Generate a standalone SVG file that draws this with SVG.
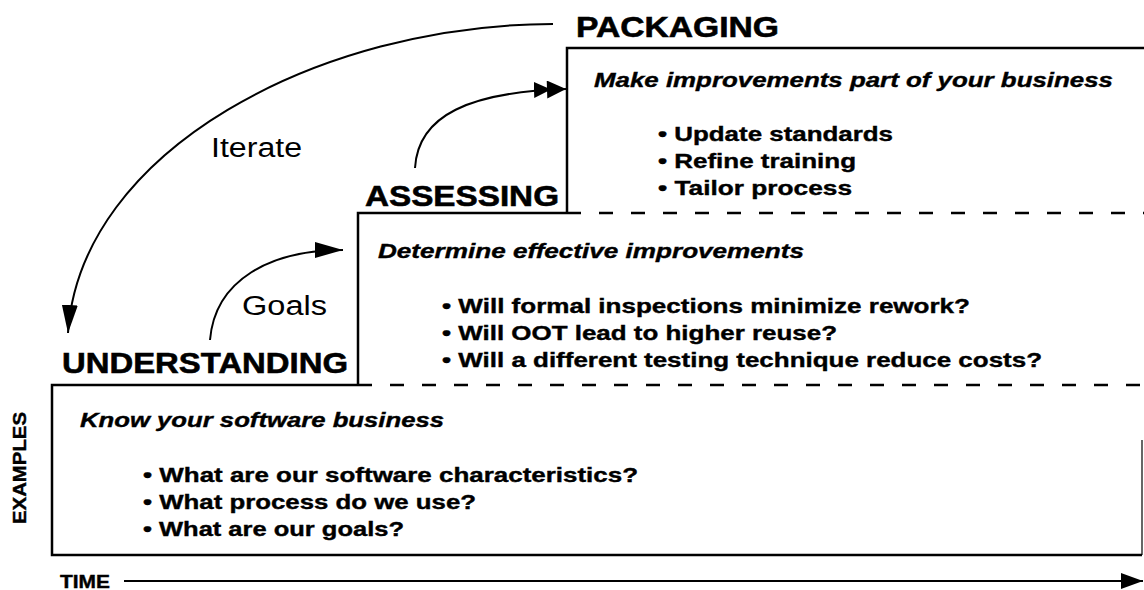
<svg xmlns="http://www.w3.org/2000/svg" width="1144" height="590" viewBox="0 0 1144 590">
  <style>
    .bg { fill: #ffffff; }
    .box { fill: none; stroke: #000; stroke-width: 2.5; }
    .dash { fill: none; stroke: #000; stroke-width: 2.5; stroke-dasharray: 14 18; }
    .conn { fill: none; stroke: #000; stroke-width: 2; }
    .head { font-family: "Liberation Sans", Arial, sans-serif; font-weight: bold; font-size: 30px; fill: #000; stroke: #000; stroke-width: 0.6; }
    .title { font-family: "Liberation Sans", Arial, sans-serif; font-weight: bold; font-style: italic; font-size: 21px; fill: #000; stroke: #000; stroke-width: 0.4; }
    .item { font-family: "Liberation Sans", Arial, sans-serif; font-weight: bold; font-size: 21px; fill: #000; stroke: #000; stroke-width: 0.4; }
    .lbl { font-family: "Liberation Sans", Arial, sans-serif; font-size: 27px; fill: #000; }
    .axis { font-family: "Liberation Sans", Arial, sans-serif; font-weight: bold; font-size: 18px; fill: #000; stroke: #000; stroke-width: 0.4; }
  </style>
  <defs>
    <marker id="arrow" viewBox="0 0 28 16" refX="28" refY="8" markerWidth="28" markerHeight="16" markerUnits="userSpaceOnUse" orient="auto">
      <path d="M0,0 L28,8 L0,16 Z" fill="#000"/>
    </marker>
    <marker id="arrowDouble" viewBox="0 0 32 18" refX="32" refY="9" markerWidth="32" markerHeight="18" markerUnits="userSpaceOnUse" orient="auto">
      <path d="M0,1 L17,9 L0,17 Z M13,0 L32,9 L13,18 Z" fill="#000"/>
    </marker>
    <marker id="arrowTime" viewBox="0 0 22 16" refX="22" refY="8" markerWidth="22" markerHeight="16" markerUnits="userSpaceOnUse" orient="auto">
      <path d="M0,0 L22,8 L0,16 Z" fill="#000"/>
    </marker>
  </defs>
  <rect class="bg" x="0" y="0" width="1144" height="590"/>

  <g id="packaging">
    <text class="head" x="576" y="37" textLength="203" lengthAdjust="spacingAndGlyphs">PACKAGING</text>
    <path class="box" d="M567,213 L567,48 L1144,48"/>
    <path class="dash" d="M567,213 L1144,213"/>
    <text class="title" x="594" y="87" textLength="519" lengthAdjust="spacingAndGlyphs">Make improvements part of your business</text>
    <text class="item" x="658" y="141" textLength="235" lengthAdjust="spacingAndGlyphs">• Update standards</text>
    <text class="item" x="658" y="168" textLength="198" lengthAdjust="spacingAndGlyphs">• Refine training</text>
    <text class="item" x="658" y="195" textLength="194" lengthAdjust="spacingAndGlyphs">• Tailor process</text>
  </g>

  <g id="assessing">
    <text class="head" x="365" y="206" textLength="194" lengthAdjust="spacingAndGlyphs">ASSESSING</text>
    <path class="box" d="M358,385 L358,213 L567,213"/>
    <path class="dash" d="M358,385 L1144,385"/>
    <text class="title" x="378" y="258" textLength="426" lengthAdjust="spacingAndGlyphs">Determine effective improvements</text>
    <text class="item" x="442" y="313" textLength="528" lengthAdjust="spacingAndGlyphs">• Will formal inspections minimize rework?</text>
    <text class="item" x="442" y="340" textLength="395" lengthAdjust="spacingAndGlyphs">• Will OOT lead to higher reuse?</text>
    <text class="item" x="442" y="367" textLength="600" lengthAdjust="spacingAndGlyphs">• Will a different testing technique reduce costs?</text>
  </g>

  <g id="understanding">
    <text class="head" x="62" y="373" textLength="286" lengthAdjust="spacingAndGlyphs">UNDERSTANDING</text>
    <path class="box" d="M358,385 L52,385 L52,555 L1142,555"/>
    <path d="M1142,555 L1142,440" fill="none" stroke="#000" stroke-width="1.2"/>
    <text class="title" x="80" y="427" textLength="364" lengthAdjust="spacingAndGlyphs">Know your software business</text>
    <text class="item" x="143" y="482" textLength="495" lengthAdjust="spacingAndGlyphs">• What are our software characteristics?</text>
    <text class="item" x="143" y="509" textLength="333" lengthAdjust="spacingAndGlyphs">• What process do we use?</text>
    <text class="item" x="143" y="536" textLength="261" lengthAdjust="spacingAndGlyphs">• What are our goals?</text>
  </g>

  <g id="axes">
    <text class="axis" transform="translate(26,524) rotate(-90)" x="0" y="0" textLength="112" lengthAdjust="spacingAndGlyphs">EXAMPLES</text>
    <text class="axis" x="60" y="588" textLength="50" lengthAdjust="spacingAndGlyphs">TIME</text>
  </g>

  <g id="connectors">
    <path class="conn" d="M553,24 C320,24 80,150 68,333" marker-end="url(#arrow)"/>
    <path class="conn" d="M210,340 C215,280 270,250 343,250" marker-end="url(#arrow)"/>
    <path class="conn" d="M415,168 C418,115 470,92 566,89" marker-end="url(#arrowDouble)"/>
    <path class="conn" d="M124,581 L1143,581" stroke-width="2.5" marker-end="url(#arrowTime)"/>
    <text class="lbl" x="211" y="157" textLength="91" lengthAdjust="spacingAndGlyphs">Iterate</text>
    <text class="lbl" x="242" y="315" textLength="85" lengthAdjust="spacingAndGlyphs">Goals</text>
  </g>
</svg>
